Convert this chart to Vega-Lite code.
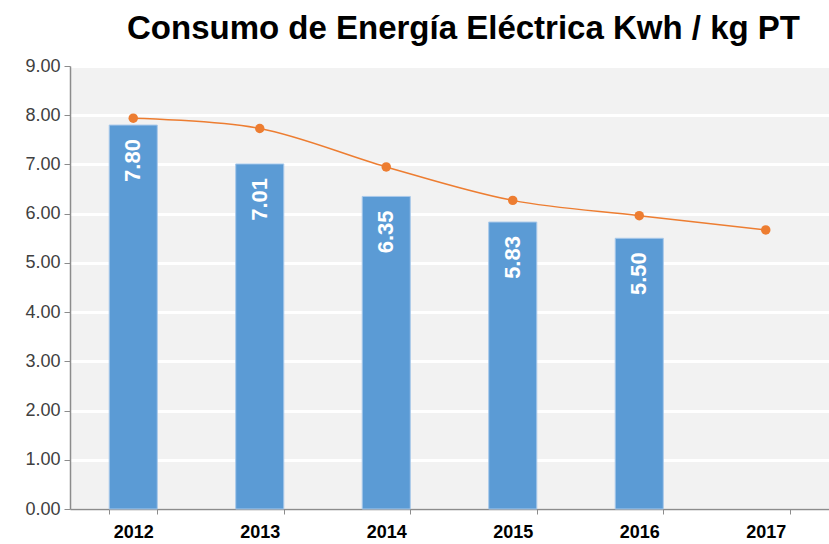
{
  "$schema": "https://vega.github.io/schema/vega-lite/v6.json",
  "width": 759,
  "height": 443,
  "autosize": {"type": "none"},
  "padding": {"left": 70, "top": 66, "right": 0, "bottom": 35},
  "background": "white",
  "title": {
    "text": "Consumo de Energía Eléctrica Kwh / kg PT",
    "font": "Liberation Sans",
    "fontSize": 33,
    "fontWeight": "bold",
    "color": "#000000",
    "anchor": "middle",
    "dx": 14,
    "offset": 11
  },
  "config": {
    "view": {"fill": "#f2f2f2", "stroke": null},
    "axis": {"labelFont": "Liberation Sans"}
  },
  "data": {
    "values": [
      {"year": "2012", "consumo": 7.80, "tendencia": 7.94},
      {"year": "2013", "consumo": 7.01, "tendencia": 7.73},
      {"year": "2014", "consumo": 6.35, "tendencia": 6.95},
      {"year": "2015", "consumo": 5.83, "tendencia": 6.27},
      {"year": "2016", "consumo": 5.50, "tendencia": 5.96},
      {"year": "2017", "consumo": null, "tendencia": 5.67}
    ]
  },
  "encoding": {
    "x": {
      "field": "year",
      "type": "ordinal",
      "scale": {"paddingInner": 0.62, "paddingOuter": 0.31},
      "axis": {
        "title": null,
        "labelAngle": 0,
        "labelFontSize": 18,
        "labelFontWeight": "bold",
        "labelColor": "#000000",
        "labelPadding": 9,
        "tickBand": "extent",
        "tickColor": "#8c8c8c",
        "tickSize": 5,
        "domainColor": "#8c8c8c",
        "domainWidth": 1.5,
        "grid": false
      }
    }
  },
  "layer": [
    {
      "mark": {"type": "bar", "color": "#5b9bd5", "stroke": "#a9c9ea", "strokeWidth": 1},
      "encoding": {
        "y": {
          "field": "consumo",
          "type": "quantitative",
          "scale": {"domain": [0, 9], "nice": false},
          "axis": {
            "title": null,
            "values": [0, 1, 2, 3, 4, 5, 6, 7, 8, 9],
            "format": ".2f",
            "labelFontSize": 18,
            "labelColor": "#404040",
            "labelPadding": 4,
            "tickColor": "#8c8c8c",
            "tickSize": 6,
            "domainColor": "#8c8c8c",
            "domainWidth": 1.5,
            "gridColor": "#ffffff",
            "gridWidth": 3
          }
        }
      }
    },
    {
      "mark": {
        "type": "text",
        "angle": -90,
        "align": "right",
        "baseline": "middle",
        "dx": -14,
        "color": "#ffffff",
        "font": "Liberation Sans",
        "fontSize": 22,
        "fontWeight": "bold"
      },
      "encoding": {
        "y": {"field": "consumo", "type": "quantitative"},
        "text": {"field": "consumo", "type": "quantitative", "format": ".2f"}
      }
    },
    {
      "mark": {"type": "line", "color": "#ed7d31", "strokeWidth": 1.5, "interpolate": "catmull-rom"},
      "encoding": {
        "y": {"field": "tendencia", "type": "quantitative"}
      }
    },
    {
      "mark": {"type": "point", "filled": true, "color": "#ed7d31", "size": 90, "opacity": 1},
      "encoding": {
        "y": {"field": "tendencia", "type": "quantitative"}
      }
    }
  ]
}
